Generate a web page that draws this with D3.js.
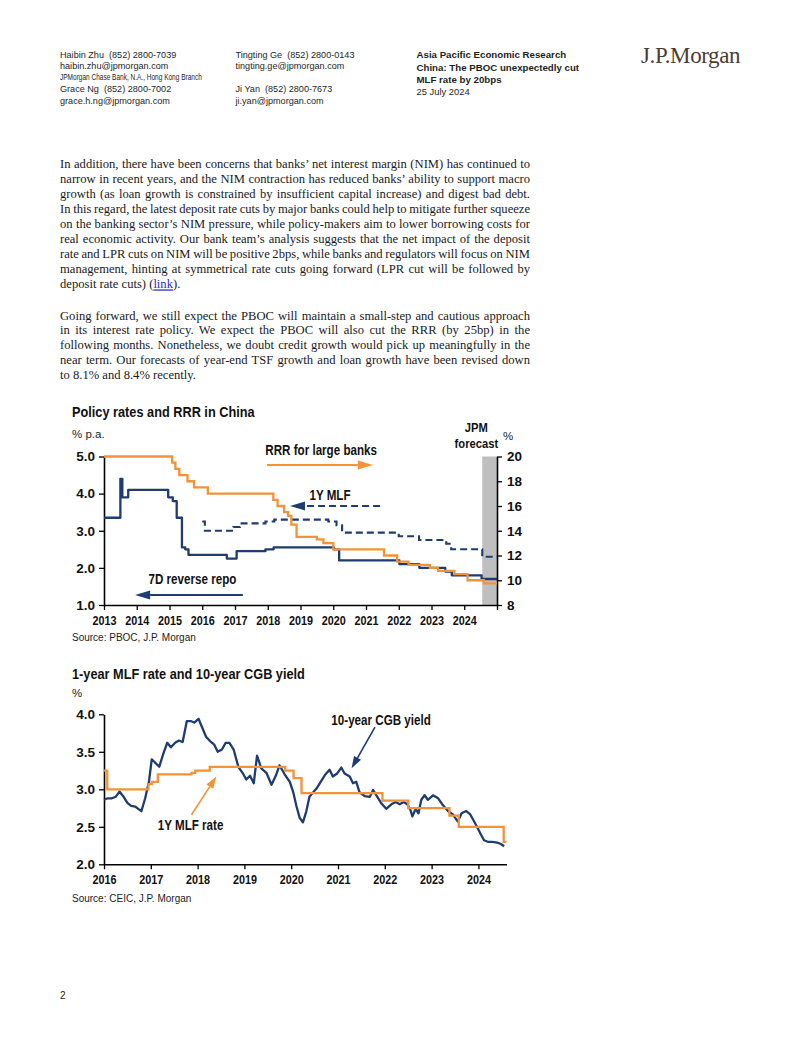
<!DOCTYPE html>
<html><head><meta charset="utf-8">
<script src="https://cdn.jsdelivr.net/npm/d3@7"></script>
<style>
body{margin:0;background:#fff;}
svg{display:block;}
</style></head>
<body>
<svg id="page" width="802" height="1037"></svg>
<script>
// ---------------- DATA ----------------
// Chart 1: Policy rates and RRR in China
const years1 = [2013,2014,2015,2016,2017,2018,2019,2020,2021,2022,2023,2024];
const leftTicks1 = [1,2,3,4,5];
const rightTicks1 = [8,10,12,14,16,18,20];
const forecastStart = 2024.55;
// RRR for large banks (% , right axis), step series [date, value]
const rrrLarge = [[2013.0,20],[2015.08,19.5],[2015.18,19.0],[2015.3,18.5],[2015.55,18.0],[2015.75,17.5],[2016.17,17.0],
  [2018.17,16.5],[2018.3,16.0],[2018.5,15.5],[2018.62,15.2],[2018.72,14.5],[2018.88,13.5],[2019.5,13.3],[2019.7,13.0],
  [2020.0,12.5],[2021.55,12.0],[2021.95,11.5],[2022.3,11.25],[2022.95,11.0],[2023.2,10.75],[2023.7,10.5],[2024.1,10.0],
  [2024.6,9.75],[2025.0,9.75]];
// 7D reverse repo (% p.a., left axis)
const repo7d = [[2013.0,3.35],[2013.45,3.35],[2013.5,4.4],[2013.56,3.9],[2013.68,3.9],[2013.74,4.1],[2014.95,4.1],[2014.96,3.9],[2015.1,3.8],[2015.22,3.35],
  [2015.38,2.55],[2015.48,2.5],[2015.58,2.35],[2016.75,2.25],[2017.05,2.45],[2017.93,2.5],[2018.18,2.55],
  [2020.02,2.5],[2020.18,2.2],[2022.02,2.1],[2022.63,2.0],[2023.42,1.9],[2023.62,1.8],[2024.53,1.7],[2025.0,1.7]];
// 1Y MLF (% p.a., left axis)
const mlf1y = [[2016.0,3.25],[2016.08,3.0],[2016.95,3.1],[2017.15,3.2],[2017.93,3.25],[2018.2,3.3],[2019.85,3.25],
  [2020.1,3.15],[2020.27,2.95],[2022.0,2.85],[2022.62,2.75],[2023.45,2.65],[2023.6,2.5],[2024.55,2.3],[2025.0,2.3]];

// Chart 2: 1-year MLF rate and 10-year CGB yield
const years2 = [2016,2017,2018,2019,2020,2021,2022,2023,2024];
const yTicks2 = [2.0,2.5,3.0,3.5,4.0];
const mlfRate = [[2016.0,3.25],[2016.07,3.0],[2016.95,3.07],[2017.02,3.1],[2017.15,3.2],[2017.87,3.22],[2017.95,3.25],
  [2018.26,3.3],[2019.87,3.25],[2020.05,3.15],[2020.22,2.95],[2021.95,2.85],[2022.5,2.75],[2023.38,2.65],[2023.58,2.5],
  [2024.54,2.3],[2024.6,2.3]];
const cgbYield = [[2016.0,2.86],[2016.08,2.88],[2016.17,2.88],[2016.25,2.9],[2016.33,2.97],[2016.42,2.9],[2016.5,2.82],
  [2016.58,2.78],[2016.67,2.77],[2016.75,2.73],[2016.8,2.71],[2016.88,2.88],[2016.96,3.1],[2017.02,3.4],[2017.1,3.35],
  [2017.18,3.3],[2017.27,3.48],[2017.35,3.62],[2017.43,3.56],[2017.52,3.62],[2017.6,3.65],[2017.68,3.63],[2017.77,3.91],
  [2017.85,3.91],[2017.93,3.89],[2018.02,3.94],[2018.1,3.82],[2018.18,3.7],[2018.27,3.64],[2018.35,3.6],[2018.43,3.5],
  [2018.52,3.53],[2018.6,3.62],[2018.68,3.62],[2018.77,3.53],[2018.87,3.3],[2018.96,3.22],[2019.04,3.13],[2019.12,3.18],
  [2019.2,3.08],[2019.27,3.45],[2019.36,3.28],[2019.47,3.22],[2019.58,3.06],[2019.67,3.18],[2019.75,3.32],[2019.86,3.2],
  [2019.97,3.1],[2020.04,2.97],[2020.11,2.78],[2020.18,2.62],[2020.25,2.56],[2020.32,2.7],[2020.39,2.9],[2020.47,2.96],
  [2020.54,3.01],[2020.61,3.08],[2020.72,3.19],[2020.82,3.26],[2020.89,3.17],[2020.98,3.21],[2021.07,3.29],[2021.14,3.21],
  [2021.25,3.17],[2021.32,3.08],[2021.39,3.1],[2021.46,2.96],[2021.57,2.91],[2021.68,2.9],[2021.75,2.99],[2021.82,2.92],
  [2021.93,2.81],[2022.03,2.74],[2022.14,2.8],[2022.23,2.83],[2022.32,2.8],[2022.4,2.83],[2022.48,2.8],[2022.55,2.72],
  [2022.59,2.64],[2022.66,2.74],[2022.72,2.68],[2022.78,2.86],[2022.85,2.92],[2022.92,2.86],[2023.03,2.92],[2023.14,2.88],
  [2023.24,2.79],[2023.35,2.71],[2023.46,2.66],[2023.56,2.57],[2023.64,2.68],[2023.74,2.71],[2023.82,2.67],[2023.9,2.58],
  [2023.97,2.5],[2024.05,2.4],[2024.12,2.32],[2024.2,2.3],[2024.3,2.3],[2024.4,2.29],[2024.48,2.27],[2024.55,2.24]];

// Text content
const headerLeft = [["Haibin Zhu  (852) 2800-7039","haibin.zhu@jpmorgan.com"],["Grace Ng  (852) 2800-7002","grace.h.ng@jpmorgan.com"]];
const headerMid = [["Tingting Ge  (852) 2800-0143","tingting.ge@jpmorgan.com"],["Ji Yan  (852) 2800-7673","ji.yan@jpmorgan.com"]];
const para1 = [
 "In addition, there have been concerns that banks\u2019 net interest margin (NIM) has continued to",
 "narrow in recent years, and the NIM contraction has reduced banks\u2019 ability to support macro",
 "growth (as loan growth is constrained by insufficient capital increase) and digest bad debt.",
 "In this regard, the latest deposit rate cuts by major banks could help to mitigate further squeeze",
 "on the banking sector\u2019s NIM pressure, while policy-makers aim to lower borrowing costs for",
 "real economic activity. Our bank team\u2019s analysis suggests that the net impact of the deposit",
 "rate and LPR cuts on NIM will be positive 2bps, while banks and regulators will focus on NIM",
 "management, hinting at symmetrical rate cuts going forward (LPR cut will be followed by"];
const para2 = [
 "Going forward, we still expect the PBOC will maintain a small-step and cautious approach",
 "in its interest rate policy. We expect the PBOC will also cut the RRR (by 25bp) in the",
 "following months. Nonetheless, we doubt credit growth would pick up meaningfully in the",
 "near term. Our forecasts of year-end TSF growth and loan growth have been revised down",
 "to 8.1% and 8.4% recently."];

// ---------------- DRAW ----------------
const NAVY = '#1e3b72', ORANGE = '#f39237', GRAY = '#bfbfbf', TXT = '#1e1e1e';
const SANS = "'Liberation Sans', Arial, sans-serif";
const SERIF = "'Liberation Serif', 'Times New Roman', serif";
const svg = d3.select('#page');

function txt(x, y, s, o) {
  o = o || {};
  const t = svg.append('text')
    .attr('font-family', o.family || SANS).attr('font-size', o.size || 9)
    .attr('font-weight', o.weight || 'normal').attr('fill', o.fill || TXT)
    .attr('text-anchor', o.anchor || 'start').style('white-space', 'pre').text(s);
  if (o.sx) { t.attr('transform', `translate(${x},${y}) scale(${o.sx},1)`); }
  else { t.attr('x', x).attr('y', y); }
  if (o.ls != null) t.attr('letter-spacing', o.ls);
  return t;
}

// Header
headerLeft.forEach((blk, i) => {
  const y0 = i === 0 ? 57.5 : 92;
  txt(60, y0, blk[0], {size: 9.1});
  txt(60, y0 + 11.6, blk[1], {size: 9.1});
});
txt(60, 79.8, "JPMorgan Chase Bank, N.A., Hong Kong Branch", {size: 8.8, sx: 0.74});
headerMid.forEach((blk, i) => {
  const y0 = i === 0 ? 57.5 : 92;
  txt(235.5, y0, blk[0], {size: 9.1});
  txt(235.5, y0 + 11.6, blk[1], {size: 9.1});
});
txt(416.5, 57.5, "Asia Pacific Economic Research", {size: 9.7, weight: 'bold'});
txt(416.5, 71, "China: The PBOC unexpectedly cut", {size: 9.7, weight: 'bold'});
txt(416.5, 83, "MLF rate by 20bps", {size: 9.7, weight: 'bold'});
txt(416.5, 95.3, "25 July 2024", {size: 9.4});
txt(641, 62.5, "J.P.Morgan", {size: 23, family: SERIF, fill: '#4b3c31', ls: -0.4});

// Body paragraphs (justified)
function bodyLine(s, y, justify) {
  const t = txt(60, y, s, {size: 12.6, family: SERIF, fill: '#1a1a1a'});
  if (justify) {
    const w = t.node().getComputedTextLength();
    const n = (s.match(/ /g) || []).length;
    t.style('word-spacing', ((470 - w) / n) + 'px');
  }
  return t;
}
para1.forEach((s, i) => bodyLine(s, 168 + i * 15.05, true));
{
  const t = txt(60, 168 + 8 * 15.05, "deposit rate cuts) (", {size: 12.6, family: SERIF, fill: '#1a1a1a'});
  t.append('tspan').attr('fill', '#2a2ad0').style('text-decoration', 'underline').text('link');
  t.append('tspan').text(').');
}
para2.forEach((s, i) => bodyLine(s, 319.7 + i * 14.7, i < para2.length - 1));

// Common helpers
const TSX = 0.8; // condensed factor for year tick labels
function styleAxis(sel, condensed) {
  sel.selectAll('path.domain').attr('stroke', '#000').attr('stroke-width', 1.6);
  sel.selectAll('.tick line').attr('stroke', '#000').attr('stroke-width', 1.3);
  const tt = sel.selectAll('.tick text').attr('font-family', SANS).attr('font-weight', 'bold')
    .attr('font-size', 13.5).attr('fill', '#111');
  if (condensed) tt.attr('transform', `scale(${TSX},1)`);
}
function arrow(g, fx, fy, tx, ty, color, L, W, width, dash) {
  const ang = Math.atan2(ty - fy, tx - fx);
  const bx = tx - L * Math.cos(ang), by = ty - L * Math.sin(ang);
  g.append('line').attr('x1', fx).attr('y1', fy).attr('x2', bx).attr('y2', by)
    .attr('stroke', color).attr('stroke-width', width).attr('stroke-dasharray', dash || null);
  const px = -Math.sin(ang) * W, py = Math.cos(ang) * W;
  g.append('path').attr('d', `M${tx},${ty}L${bx + px},${by + py}L${bx - px},${by - py}Z`).attr('fill', color);
}
const LBL = {size: 14, weight: 'bold', anchor: 'middle', fill: '#111', sx: 0.83};

// ---------- Chart 1 ----------
const x1 = d3.scaleLinear().domain([2013, 2025]).range([104, 497]);
const yL = d3.scaleLinear().domain([1, 5]).range([605, 456.5]);
const yR = d3.scaleLinear().domain([8, 20]).range([605, 456.5]);
const g1 = svg.append('g');

txt(72, 417, "Policy rates and RRR in China", {size: 15, weight: 'bold', fill: '#111', sx: 0.85});
txt(72, 437.5, "% p.a.", {size: 11.5, fill: '#222'});
txt(x1(2025.18), yR(21.3), "%", {size: 11.5, fill: '#222'});

g1.append('rect').attr('x', x1(forecastStart)).attr('y', yL(5)).attr('width', x1(2025) - x1(forecastStart))
  .attr('height', yL(1) - yL(5)).attr('fill', GRAY);
txt(x1(2024.37), yL(5.65), "JPM", Object.assign({}, LBL, {size: 13.5}));
txt(x1(2024.37), yL(5.23), "forecast", Object.assign({}, LBL, {size: 13.5}));

const ax1 = g1.append('g').attr('transform', `translate(0,${yL(1)})`)
  .call(d3.axisBottom(x1).tickValues(years1.concat([2025])).tickSize(5).tickSizeOuter(0).tickPadding(5)
    .tickFormat(d => years1.includes(d) ? String(d) : ''));
styleAxis(ax1, true);
const ay1 = g1.append('g').attr('transform', `translate(${x1(2013)},0)`)
  .call(d3.axisLeft(yL).tickValues(leftTicks1).tickSize(5).tickSizeOuter(0).tickPadding(4).tickFormat(d3.format('.1f')));
styleAxis(ay1, false);
const ayR = g1.append('g').attr('transform', `translate(${x1(2025)},0)`)
  .call(d3.axisRight(yR).tickValues(rightTicks1).tickSize(5).tickSizeOuter(0).tickPadding(5));
styleAxis(ayR, false);

const lineL = d3.line().x(d => x1(d[0])).y(d => yL(d[1])).curve(d3.curveStepAfter);
const lineR = d3.line().x(d => x1(d[0])).y(d => yR(d[1])).curve(d3.curveStepAfter);
g1.append('path').datum(repo7d).attr('d', lineL)
  .attr('fill', 'none').attr('stroke', NAVY).attr('stroke-width', 2.3).attr('stroke-linejoin', 'round');
g1.append('path').datum(mlf1y).attr('d', lineL).attr('fill', 'none').attr('stroke', NAVY).attr('stroke-width', 2.1).attr('stroke-dasharray', '7,4');
g1.append('path').datum(rrrLarge).attr('d', lineR).attr('fill', 'none').attr('stroke', ORANGE).attr('stroke-width', 2.3);

txt(x1(2019.63), yL(5.04), "RRR for large banks", LBL);
arrow(g1, x1(2017.98), yL(4.77), x1(2021.21), yL(4.77), ORANGE, 15, 4.5, 2);
txt(x1(2019.9), yL(3.83), "1Y MLF", LBL);
arrow(g1, x1(2021.43), yL(3.67), x1(2018.68), yL(3.67), NAVY, 15, 4.5, 2, '7,4');
txt(x1(2015.7), yL(1.57), "7D reverse repo", LBL);
arrow(g1, x1(2017.24), yL(1.27), x1(2013.95), yL(1.27), NAVY, 15, 4.5, 2);

txt(72, 641, "Source: PBOC, J.P. Morgan", {size: 10, fill: '#222'});

// ---------- Chart 2 ----------
const x2 = d3.scaleLinear().domain([2016, 2024.6]).range([104, 506.5]);
const y2 = d3.scaleLinear().domain([2, 4]).range([864.3, 714.3]);
const g2 = svg.append('g');
txt(72, 679, "1-year MLF rate and 10-year CGB yield", {size: 15, weight: 'bold', fill: '#111', sx: 0.85});
txt(72, 697, "%", {size: 11.5, fill: '#222'});

const ax2 = g2.append('g').attr('transform', `translate(0,${y2(2)})`)
  .call(d3.axisBottom(x2).tickValues(years2).tickSize(5).tickSizeOuter(0).tickPadding(5).tickFormat(d => String(d)));
styleAxis(ax2, true);
const ay2 = g2.append('g').attr('transform', `translate(${x2(2016)},0)`)
  .call(d3.axisLeft(y2).tickValues(yTicks2).tickSize(5).tickSizeOuter(0).tickPadding(4).tickFormat(d3.format('.1f')));
styleAxis(ay2, false);

const line2s = d3.line().x(d => x2(d[0])).y(d => y2(d[1])).curve(d3.curveStepAfter);
const line2 = d3.line().x(d => x2(d[0])).y(d => y2(d[1]));
g2.append('path').datum(cgbYield).attr('d', line2).attr('fill', 'none').attr('stroke', NAVY).attr('stroke-width', 2.3).attr('stroke-linejoin', 'round');
g2.append('path').datum(mlfRate).attr('d', line2s).attr('fill', 'none').attr('stroke', ORANGE).attr('stroke-width', 2.3);

txt(x2(2021.92), y2(3.86), "10-year CGB yield", LBL);
arrow(g2, x2(2021.79), y2(3.83), x2(2021.29), y2(3.28), NAVY, 12, 4, 1.6);
txt(x2(2017.85), y2(2.46), "1Y MLF rate", LBL);
arrow(g2, x2(2017.87), y2(2.66), x2(2018.4), y2(3.17), ORANGE, 12, 4, 1.6);

txt(72, 902, "Source: CEIC, J.P. Morgan", {size: 10, fill: '#222'});
txt(60, 999, "2", {size: 10, fill: '#222'});
</script>
</body></html>
